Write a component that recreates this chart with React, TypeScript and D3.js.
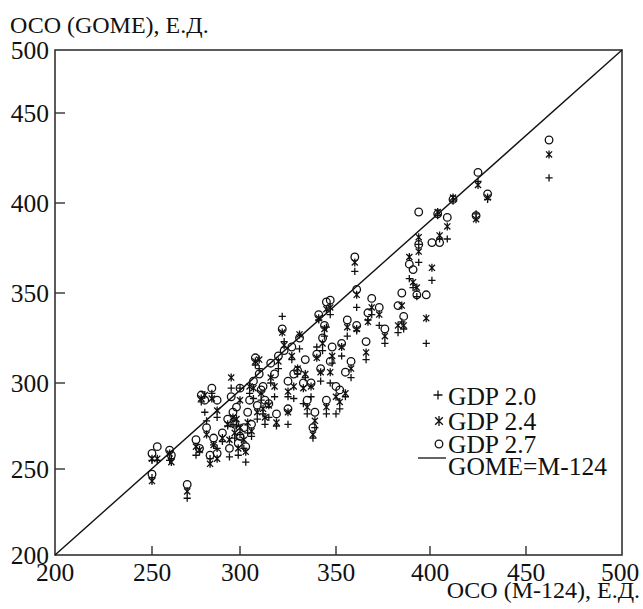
import React, { useEffect, useRef } from "react";
import * as d3 from "d3";

// ОСО по М-124 (ось X) и по GOME для трёх версий алгоритма (ось Y), Е.Д.
const m124 = [
  250, 250, 253, 260, 261, 270, 275, 277, 278, 280, 281, 283, 284, 285, 287,
  287, 293, 294, 295, 297, 298, 300, 300, 302, 303, 304, 305, 307, 308, 310,
  312, 313, 315, 318, 320, 322, 323, 325, 325, 328, 330, 331, 333, 335, 337,
  338, 340, 341, 342, 343, 345, 345, 347, 350, 353, 355, 347, 356, 360, 361,
  361, 367, 369, 373, 383, 385, 386, 389, 391, 393, 394, 394, 398, 401, 405,
  409, 404, 412, 425, 424, 430, 462,
  290, 296, 299, 306, 309, 311, 316, 319, 327, 334, 339, 344, 348, 352, 358,
  366, 376,
];
const gdp20 = [
  255, 245, 255, 255, 256, 233, 258, 260, 289, 283, 278, 256, 294, 264, 262,
  280, 275, 257, 297, 268, 275, 270, 297, 262, 254, 271, 294, 291, 310, 308,
  282, 276, 280, 292, 308, 337, 323, 292, 276, 291, 305, 319, 288, 282, 292,
  268, 320, 335, 301, 318, 331, 282, 300, 282, 315, 292, 338, 326, 362, 342,
  329, 335, 338, 332, 328, 334, 330, 358, 353, 348, 377, 367, 322, 357, 380,
  380, 393, 401, 412, 394, 402, 414,
  266, 276, 258, 269, 279, 290, 300, 275, 313, 303, 274, 326, 311, 285, 303,
  313, 322,
];
const gdp24 = [
  256, 243, 256, 259, 254, 237, 263, 261, 291, 293, 270, 253, 291, 264, 256,
  284, 276, 267, 303, 271, 279, 274, 290, 267, 260, 277, 298, 297, 312, 313,
  285, 280, 287, 298, 312, 328, 321, 295, 283, 298, 308, 327, 297, 286, 298,
  270, 314, 336, 306, 322, 341, 286, 306, 292, 320, 294, 342, 331, 367, 349,
  330, 334, 342, 338, 332, 343, 332, 370, 356, 353, 381, 373, 336, 364, 382,
  387, 395, 403, 410, 391, 403, 427,
  268, 280, 262, 272, 283, 294, 303, 277, 315, 305, 278, 330, 315, 289, 308,
  317, 326,
];
const gdp27 = [
  259, 247, 263, 261, 258, 241, 267, 262, 293, 290, 274, 258, 297, 268, 259,
  290, 279, 262, 292, 276, 286, 269, 297, 274, 263, 283, 290, 301, 314, 305,
  298, 290, 288, 305, 315, 330, 318, 301, 285, 305, 307, 325, 300, 290, 300,
  274, 316, 338, 308, 325, 345, 290, 312, 298, 322, 306, 346, 335, 370, 352,
  332, 339, 347, 342, 343, 350, 337, 366, 363, 349, 395, 377, 349, 378, 378,
  392, 394, 402, 417, 393, 405, 435,
  271, 283, 265, 276, 287, 296, 311, 282, 320, 313, 283, 332, 320, 296, 312,
  323, 330,
];

const ticks = [200, 250, 300, 350, 400, 450, 500];
const legendItems = ["GDP 2.0", "GDP 2.4", "GDP 2.7", "GOME=M-124"];

const font = "'Liberation Serif', 'Times New Roman', serif";

function markerPath(kind, x, y, r = 3.6) {
  if (kind === "plus") {
    return `M${x - r},${y}h${2 * r}M${x},${y - r}v${2 * r}`;
  }
  const a = r * 0.85;
  return (
    `M${x - a},${y - a}l${2 * a},${2 * a}M${x - a},${y + a}l${2 * a},${-2 * a}` +
    `M${x},${y - r - 0.4}v${2 * r + 0.8}`
  );
}

export default function App() {
  const svgRef = useRef();

  useEffect(() => {
    const svg = d3.select(svgRef.current);
    svg.selectAll("*").remove();

    const x = d3.scaleLinear().domain(ticks).range([55, 152, 240, 336, 430, 526, 622]);
    const y = d3.scaleLinear().domain(ticks).range([555, 469, 383, 293, 203, 113, 50]);

    // рамка
    svg
      .append("rect")
      .attr("x", x(200))
      .attr("y", y(500))
      .attr("width", x(500) - x(200))
      .attr("height", y(200) - y(500))
      .attr("fill", "none")
      .attr("stroke", "#333")
      .attr("stroke-width", 1.6);

    // засечки
    const tickG = svg.append("g").attr("stroke", "#333").attr("stroke-width", 1.4);
    tickG
      .selectAll("line.xt")
      .data(ticks.slice(1, -1))
      .join("line")
      .attr("x1", (d) => x(d))
      .attr("x2", (d) => x(d))
      .attr("y1", y(200))
      .attr("y2", y(200) - 9);
    tickG
      .selectAll("line.yt")
      .data(ticks.slice(1, -1))
      .join("line")
      .attr("x1", x(200))
      .attr("x2", x(200) + 10)
      .attr("y1", (d) => y(d))
      .attr("y2", (d) => y(d));

    const labels = svg
      .append("g")
      .attr("font-family", font)
      .attr("font-size", 25.5)
      .attr("fill", "#111");

    labels
      .selectAll("text.xl")
      .data(ticks)
      .join("text")
      .attr("x", (d) => x(d) - (d === 500 ? 2 : 0))
      .attr("y", 581)
      .attr("text-anchor", "middle")
      .text((d) => d);

    labels
      .selectAll("text.yl")
      .data(ticks)
      .join("text")
      .attr("x", 49)
      .attr("y", (d) => y(d) + 8.5)
      .attr("text-anchor", "end")
      .text((d) => d);

    // линия GOME = M-124
    svg
      .append("line")
      .attr("x1", x(200))
      .attr("y1", y(200))
      .attr("x2", x(500))
      .attr("y2", y(500))
      .attr("stroke", "#111")
      .attr("stroke-width", 1.4);

    const pts = svg
      .append("g")
      .attr("stroke", "#111")
      .attr("stroke-width", 1.3)
      .attr("fill", "none");

    pts
      .selectAll("circle")
      .data(m124.map((v, i) => [v, gdp27[i]]))
      .join("circle")
      .attr("cx", (d) => x(d[0]))
      .attr("cy", (d) => y(d[1]))
      .attr("r", 3.8);

    pts
      .selectAll("path.ast")
      .data(m124.map((v, i) => [v, gdp24[i]]))
      .join("path")
      .attr("class", "ast")
      .attr("d", (d) => markerPath("ast", x(d[0]), y(d[1])));

    pts
      .selectAll("path.plus")
      .data(m124.map((v, i) => [v, gdp20[i]]))
      .join("path")
      .attr("class", "plus")
      .attr("d", (d) => markerPath("plus", x(d[0]), y(d[1])));

    // легенда
    const leg = svg.append("g");
    const rowY = [405, 430, 453, 475];
    leg
      .selectAll("text")
      .data(legendItems)
      .join("text")
      .attr("x", 448)
      .attr("y", (d, i) => rowY[i])
      .attr("font-family", font)
      .attr("font-size", 25.5)
      .attr("fill", "#111")
      .text((d) => d);
    const ls = leg
      .append("g")
      .attr("stroke", "#111")
      .attr("stroke-width", 1.3)
      .attr("fill", "none");
    ls.append("path").attr("d", markerPath("plus", 438, 395, 4.5));
    ls.append("path").attr("d", markerPath("ast", 439, 421, 4.5));
    ls.append("circle").attr("cx", 439).attr("cy", 444).attr("r", 3.8);
    ls.append("line").attr("x1", 418).attr("x2", 446).attr("y1", 458).attr("y2", 458);

    // подписи осей
    svg
      .append("text")
      .attr("x", 10)
      .attr("y", 33)
      .attr("font-family", font)
      .attr("font-size", 24)
      .attr("fill", "#111")
      .text("ОСО (GOME), Е.Д.");

    svg
      .append("text")
      .attr("x", 640)
      .attr("y", 598)
      .attr("text-anchor", "end")
      .attr("font-family", font)
      .attr("font-size", 24)
      .attr("fill", "#111")
      .text("ОСО (М-124), Е.Д.");
  }, []);

  return (
    <div>
      <svg
        ref={svgRef}
        width={643}
        height={609}
        style={{ position: "absolute", left: 0, top: 0, background: "#fff" }}
      ></svg>
    </div>
  );
}
